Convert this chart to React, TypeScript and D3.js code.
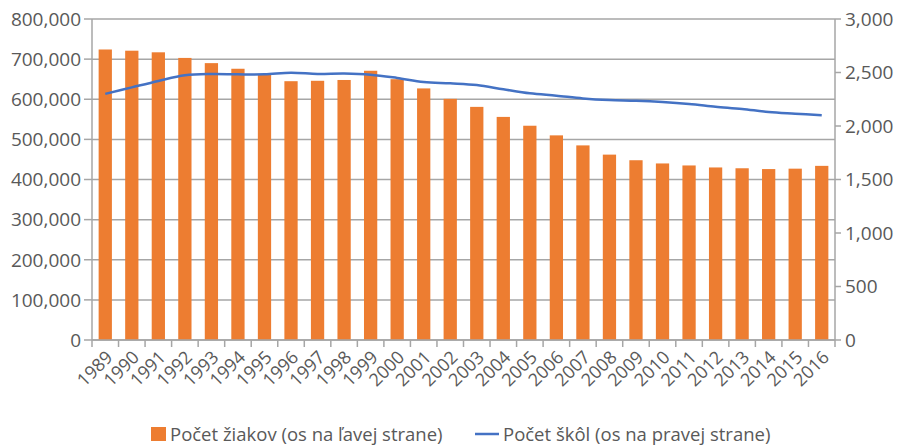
import React from "react";
import * as d3 from "d3";

const years = ["1989","1990","1991","1992","1993","1994","1995","1996","1997","1998","1999","2000","2001","2002","2003","2004","2005","2006","2007","2008","2009","2010","2011","2012","2013","2014","2015","2016"];
const pupils = [724000,721000,717000,703000,690000,676000,663000,645000,646000,648000,671000,650000,627000,601000,581000,556000,534000,510000,485000,462000,448000,440000,435000,430000,428000,426000,427000,434000];
const schools = [2300,2361,2421,2474,2486,2483,2483,2498,2486,2490,2480,2449,2411,2399,2383,2343,2305,2283,2258,2243,2236,2224,2206,2181,2159,2131,2115,2100];
const leftTicks = [0,100000,200000,300000,400000,500000,600000,700000,800000];
const rightTicks = [0,500,1000,1500,2000,2500,3000];
const legendLabels = ["Počet žiakov (os na ľavej strane)", "Počet škôl (os na pravej strane)"];

const W = 898, H = 447;
const L = 92, R = 835, T = 19, B = 340;
const FONT = "'Open Sans', 'Noto Sans', sans-serif";
const TXT = "#595959";
const GRID = "#a6a6a6";
const LEG_Y = 434;

export default function App() {
  const x = d3.scaleBand().domain(years).range([L, R]).paddingInner(0.5).paddingOuter(0.25);
  const xb = d3.scaleBand().domain(years).range([L, R]);
  const yL = d3.scaleLinear().domain([0, 800000]).range([B, T]);
  const yR = d3.scaleLinear().domain([0, 3000]).range([B, T]);
  const fmt = d3.format(",");
  const line = d3.line<number>()
    .x((_, i) => (xb(years[i]) as number) + xb.bandwidth() / 2)
    .y((d) => yR(d))
    .curve(d3.curveCatmullRom.alpha(0.5));
  const boundaries = years.map((y) => xb(y) as number).concat([R]);

  return (
    <svg width={W} height={H} style={{ position: "absolute", left: 0, top: 0, background: "#fff" }}>
      {leftTicks.map((t) => (
        <line key={"g" + t} x1={L} x2={R} y1={yL(t)} y2={yL(t)} stroke={GRID} strokeWidth={1.5} />
      ))}
      {pupils.map((v, i) => (
        <rect key={"b" + i} x={x(years[i])} width={x.bandwidth()} y={yL(v)} height={B - yL(v)} fill="#ED7D31" />
      ))}
      <path d={line(schools) || ""} fill="none" stroke="#4472C4" strokeWidth={2.5} />
      <line x1={L} x2={L} y1={T} y2={B} stroke={GRID} strokeWidth={1.5} />
      <line x1={R} x2={R} y1={T} y2={B} stroke={GRID} strokeWidth={1.5} />
      <line x1={L} x2={R} y1={B} y2={B} stroke={GRID} strokeWidth={1.5} />
      {leftTicks.map((t) => (
        <g key={"lt" + t}>
          <line x1={L - 8} x2={L} y1={yL(t)} y2={yL(t)} stroke={GRID} strokeWidth={1.5} />
          <text x={L - 11} y={yL(t)} dy="0.36em" textAnchor="end" fontSize={19} fill={TXT} fontFamily={FONT}>{fmt(t)}</text>
        </g>
      ))}
      {rightTicks.map((t) => (
        <g key={"rt" + t}>
          <line x1={R} x2={R + 6} y1={yR(t)} y2={yR(t)} stroke={GRID} strokeWidth={1.5} />
          <text x={R + 10} y={yR(t)} dy="0.36em" textAnchor="start" fontSize={19} fill={TXT} fontFamily={FONT}>{fmt(t)}</text>
        </g>
      ))}
      {boundaries.map((bx, i) => (
        <line key={"xt" + i} x1={bx} x2={bx} y1={B} y2={B + 7} stroke={GRID} strokeWidth={1.5} />
      ))}
      {years.map((yr) => {
        const cx = (xb(yr) as number) + xb.bandwidth() / 2;
        return (
          <text key={"xl" + yr} transform={`translate(${cx + 4},${B + 14}) rotate(-45)`} textAnchor="end" dy="0.35em" fontSize={18} fill={TXT} fontFamily={FONT}>{yr}</text>
        );
      })}
      <rect x={151} y={LEG_Y - 7} width={15} height={14} fill="#ED7D31" />
      <text x={170} y={LEG_Y} dy="0.36em" fontSize={18.5} fill={TXT} fontFamily={FONT}>{legendLabels[0]}</text>
      <line x1={475} x2={499} y1={LEG_Y} y2={LEG_Y} stroke="#4472C4" strokeWidth={2.5} />
      <text x={503} y={LEG_Y} dy="0.36em" fontSize={18.5} fill={TXT} fontFamily={FONT}>{legendLabels[1]}</text>
    </svg>
  );
}
